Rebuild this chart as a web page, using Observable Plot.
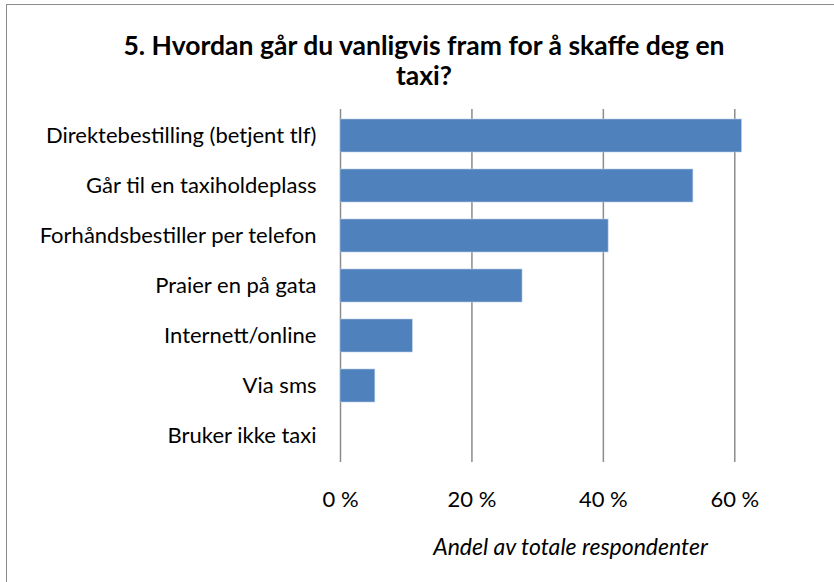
<!DOCTYPE html>
<html><head><meta charset="utf-8">
<script src="https://cdn.jsdelivr.net/npm/d3@7"></script>
<script src="https://cdn.jsdelivr.net/npm/@observablehq/plot@0.6"></script>
<style>
body{margin:0;background:#fff;}
#wrap{position:relative;width:834px;height:582px;overflow:hidden;background:#fff;}
#frame{position:absolute;left:6px;top:4px;right:-10px;bottom:-10px;border-left:1.5px solid #8c8c8c;border-top:1.5px solid #8c8c8c;}
#title{position:absolute;left:0;width:848px;top:30px;text-align:center;font-family:Lato,"Open Sans",sans-serif;font-weight:bold;font-size:26.5px;line-height:30px;color:#000;}
#chart{position:absolute;left:0;top:0;}
</style></head>
<body><div id="wrap"><div id="frame"></div><div id="chart"></div><div id="title"></div></div>
<script>
const titleLines = ["5. Hvordan går du vanligvis fram for å skaffe deg en", "taxi?"];
const categories = ["Direktebestilling (betjent tlf)", "Går til en taxiholdeplass", "Forhåndsbestiller per telefon", "Praier en på gata", "Internett/online", "Via sms", "Bruker ikke taxi"];
const values = [61.1, 53.7, 40.8, 27.7, 11.0, 5.3, 0];
const xTicks = [0, 20, 40, 60];
const xLabel = "Andel av totale respondenter";

document.getElementById("title").innerHTML = titleLines.join("<br>");
const data = categories.map((c, i) => ({category: c, value: values[i]}));

const plot = Plot.plot({
  width: 834, height: 582,
  marginLeft: 340, marginRight: 34, marginTop: 109, marginBottom: 120,
  style: {fontFamily: "Lato, 'Open Sans', sans-serif", fontSize: "22px", color: "#000", background: "transparent"},
  x: {domain: [0, 70], ticks: xTicks, tickFormat: d => d + " %", tickSize: 0, tickPadding: 29, label: null},
  y: {domain: categories, paddingInner: 0.34, paddingOuter: 0.17, tickSize: 0, tickPadding: 24, label: null},
  marks: [
    Plot.ruleX(xTicks, {stroke: "#8c8c8c", strokeWidth: 1.5}),
    Plot.ruleY([0], {frameAnchor: "bottom", x1: 0, x2: 70, stroke: "#8c8c8c", strokeWidth: 1.5}),
    Plot.barX(data, {y: "category", x: "value", fill: "#4f81bd", stroke: "#b9cde5", strokeWidth: 0.6}),
    Plot.text([xLabel], {frameAnchor: "bottom", dy: 92, fontStyle: "italic", fontSize: 23, fill: "#000"})
  ]
});
document.getElementById("chart").appendChild(plot);
</script></body></html>
